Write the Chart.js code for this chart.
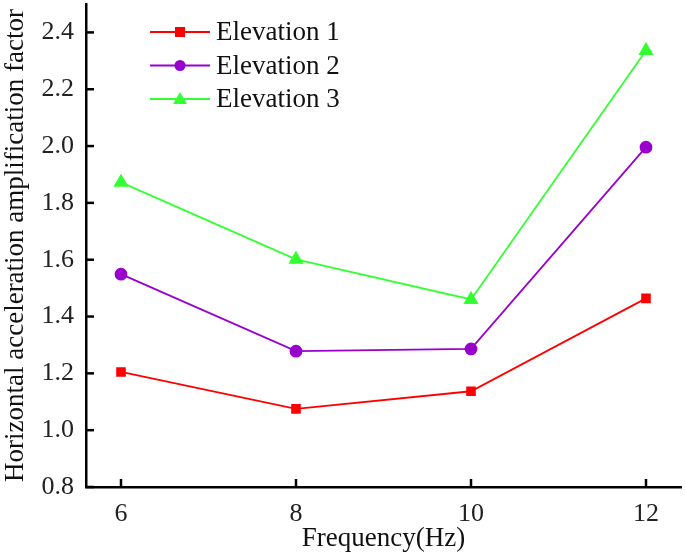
<!DOCTYPE html>
<html>
<head>
<meta charset="utf-8">
<script src="https://cdn.jsdelivr.net/npm/chart.js@4"></script>
<style>
  html, body { margin: 0; padding: 0; background: #fff; }
  #wrap { width: 685px; height: 555px; }
</style>
</head>
<body>
<div id="wrap"><canvas id="chart" width="685" height="555"></canvas></div>
<script>
// データ
const frequencies = [6, 8, 10, 12];
const elevation1 = [1.205, 1.075, 1.137, 1.464];
const elevation2 = [1.549, 1.278, 1.286, 1.996];
const elevation3 = [1.872, 1.601, 1.460, 2.336];
const seriesNames = ['Elevation 1', 'Elevation 2', 'Elevation 3'];
const xTicks = [6, 8, 10, 12];
const yTicks = [0.8, 1.0, 1.2, 1.4, 1.6, 1.8, 2.0, 2.2, 2.4];

const FONT = '"Liberation Serif", "DejaVu Serif", serif';

function toPoints(values) {
  return frequencies.map((f, i) => ({ x: f, y: values[i] }));
}

// 内向きの目盛りと凡例を描くプラグイン
const innerTicks = {
  id: 'innerTicks',
  afterDraw(chart) {
    const ctx = chart.ctx;
    const xs = chart.scales.x;
    const ys = chart.scales.y;
    const area = chart.chartArea;
    ctx.save();
    ctx.strokeStyle = '#000';
    ctx.lineWidth = 2.5;
    xTicks.forEach(v => {
      const px = xs.getPixelForValue(v);
      ctx.beginPath();
      ctx.moveTo(px, area.bottom);
      ctx.lineTo(px, area.bottom - 8);
      ctx.stroke();
    });
    yTicks.forEach(v => {
      const py = ys.getPixelForValue(v);
      ctx.beginPath();
      ctx.moveTo(area.left, py);
      ctx.lineTo(area.left + 8, py);
      ctx.stroke();
    });

    // 凡例
    const ds = chart.data.datasets;
    ds.forEach((d, i) => {
      const y = 32 + i * 33.5;
      ctx.strokeStyle = d.borderColor;
      ctx.lineWidth = 1.8;
      ctx.beginPath();
      ctx.moveTo(150, y);
      ctx.lineTo(210, y);
      ctx.stroke();
      ctx.fillStyle = d.backgroundColor;
      ctx.beginPath();
      if (d.pointStyle === 'rect') {
        ctx.fillRect(175, y - 5, 10, 10);
      } else if (d.pointStyle === 'circle') {
        ctx.arc(180, y, 5.5, 0, Math.PI * 2);
        ctx.fill();
      } else {
        ctx.moveTo(180, y - 7);
        ctx.lineTo(187, y + 5);
        ctx.lineTo(173, y + 5);
        ctx.closePath();
        ctx.fill();
      }
      ctx.fillStyle = '#111';
      ctx.font = '27px ' + FONT;
      ctx.textBaseline = 'middle';
      ctx.textAlign = 'left';
      ctx.fillText(d.label, 216, y + 1);
    });
    ctx.restore();
  }
};

new Chart(document.getElementById('chart'), {
  type: 'line',
  data: {
    datasets: [
      {
        label: seriesNames[0],
        data: toPoints(elevation1),
        borderColor: '#ff0000',
        backgroundColor: '#ff0000',
        pointStyle: 'rect',
        pointRadius: 5.5,
        borderWidth: 1.8
      },
      {
        label: seriesNames[1],
        data: toPoints(elevation2),
        borderColor: '#9900cc',
        backgroundColor: '#9900cc',
        pointStyle: 'circle',
        pointRadius: 5.5,
        borderWidth: 1.8
      },
      {
        label: seriesNames[2],
        data: toPoints(elevation3),
        borderColor: '#33ff33',
        backgroundColor: '#33ff33',
        pointStyle: 'triangle',
        pointRadius: 7,
        borderWidth: 1.8
      }
    ]
  },
  options: {
    responsive: false,
    animation: false,
    layout: {
      autoPadding: false, // 点の大きさによる余白を無効化
      padding: { top: 4, right: 4, left: 0, bottom: 0 }
    },
    plugins: {
      legend: { display: false },
      tooltip: { enabled: false }
    },
    scales: {
      x: {
        type: 'linear',
        min: 5.6,
        max: 12.4,
        afterBuildTicks(scale) {
          scale.ticks = xTicks.map(v => ({ value: v }));
        },
        afterFit(scale) {
          scale.height = 68;
          scale.paddingLeft = 0;
          scale.paddingRight = 0;
        },
        grid: { display: false },
        border: { display: true, color: '#000', width: 2.5 },
        ticks: {
          color: '#222',
          font: { family: FONT, size: 26 },
          padding: 4
        },
        title: {
          display: true,
          text: 'Frequency(Hz)',
          color: '#111',
          font: { family: FONT, size: 27 },
          padding: { top: -4, bottom: 0 }
        }
      },
      y: {
        min: 0.8,
        max: 2.5,
        afterBuildTicks(scale) {
          scale.ticks = yTicks.map(v => ({ value: v }));
        },
        afterFit(scale) {
          scale.width = 86;
          scale.paddingTop = 0;
          scale.paddingBottom = 0;
        },
        grid: { display: false },
        border: { display: true, color: '#000', width: 2.5 },
        ticks: {
          color: '#222',
          font: { family: FONT, size: 26 },
          padding: 4,
          callback: v => v.toFixed(1)
        },
        title: {
          display: true,
          text: 'Horizontal acceleration amplification factor',
          color: '#111',
          font: { family: FONT, size: 27 },
          padding: { top: 0, bottom: 0 }
        }
      }
    }
  },
  plugins: [innerTicks]
});
</script>
</body>
</html>
